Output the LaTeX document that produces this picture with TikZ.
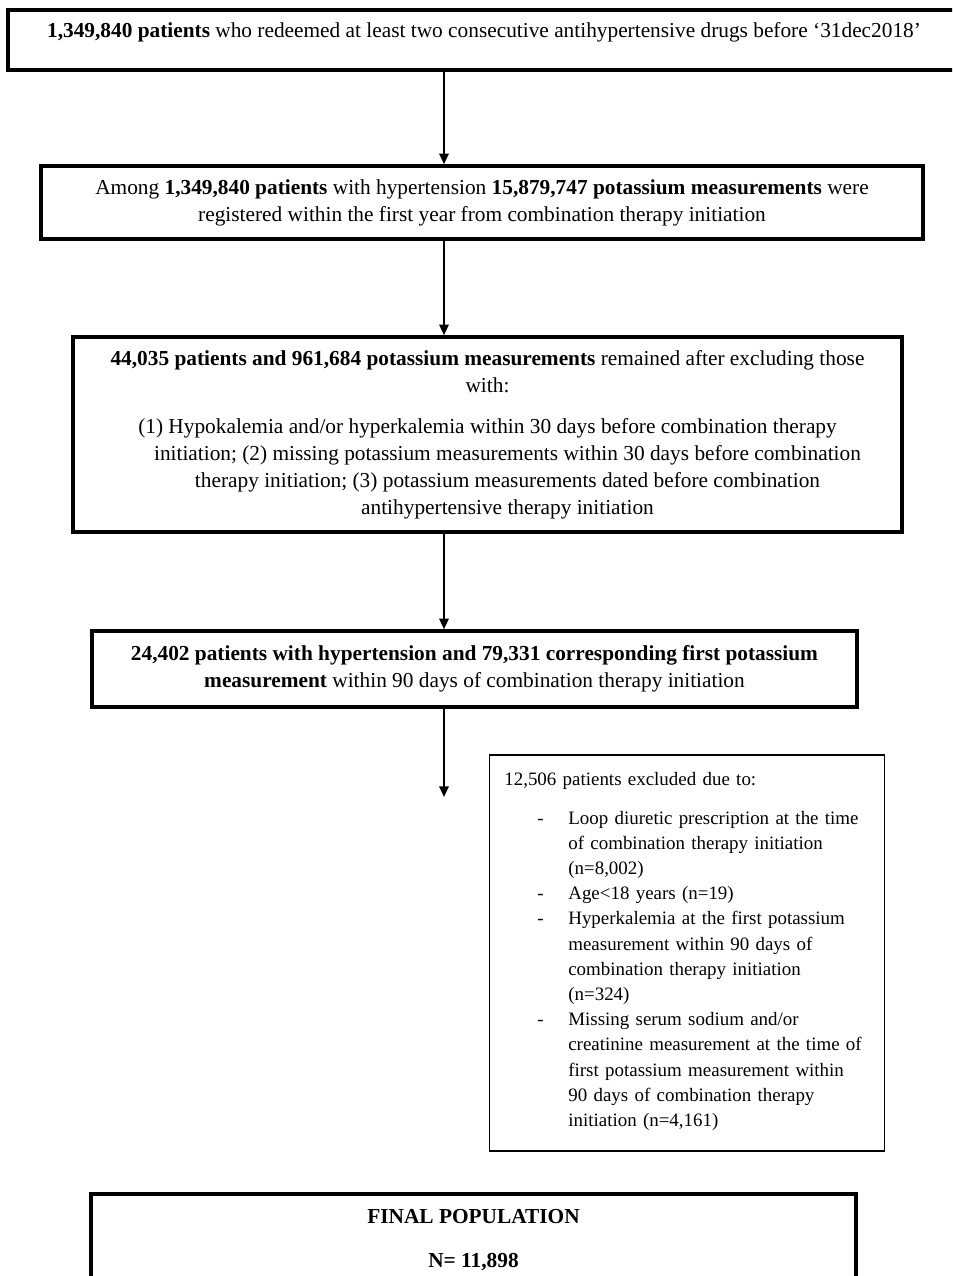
\documentclass[tikz,border=0pt]{standalone}
\usepackage{fontspec}
\setmainfont{Liberation Serif}
\usetikzlibrary{arrows.meta}

\begin{document}
\begin{tikzpicture}[x=0.75pt,y=-0.75pt,
  box/.style={draw,line width=2.6pt,align=center,inner sep=0pt,font=\fontsize{16}{20.25}\selectfont},
  exclbox/.style={draw,line width=1.2pt,align=left,inner xsep=11.25pt,text width=274pt,font=\fontsize{14.2}{18.9}\selectfont},
  >={Triangle[length=8pt,width=7pt]},line width=1.6pt]
\clip (0,0) rectangle (952,1276);

\node[box,minimum width=714pt,minimum height=45pt] (start) at (484,40) {\textbf{1,349,840 patients} who redeemed at least two consecutive antihypertensive drugs before ‘31dec2018’\\[-5pt]\mbox{}};

\node[box,minimum width=661.5pt,minimum height=54.75pt] (among) at (482,202.5) {Among \textbf{1,349,840 patients} with hypertension \textbf{15,879,747 potassium measurements} were\\
registered within the first year from combination therapy initiation};

\node[box,minimum width=621.75pt,minimum height=146.25pt] (remain) at (487.5,434.5) {\textbf{44,035 patients and 961,684 potassium measurements} remained after excluding those\\
with:\\[10.5pt]
(1) Hypokalemia and/or hyperkalemia within 30 days before combination therapy\\
\hspace*{30pt}initiation; (2) missing potassium measurements within 30 days before combination\\
\hspace*{30pt}therapy initiation; (3) potassium measurements dated before combination\\
\hspace*{30pt}antihypertensive therapy initiation};

\node[box,minimum width=573.75pt,minimum height=57pt] (first) at (474.5,669) {\textbf{24,402 patients with hypertension and 79,331 corresponding first potassium}\\
\textbf{measurement} within 90 days of combination therapy initiation};

\node[exclbox,minimum height=297pt] (excl) at (687,953) {12,506 patients excluded due to:\\[12pt]
\begin{tabular}{@{\hspace{24.75pt}}p{23.25pt}@{}l@{}}
- & Loop diuretic prescription at the time\\
  & of combination therapy initiation\\
  & (n=8,002)\\
- & Age<18 years (n=19)\\
- & Hyperkalemia at the first potassium\\
  & measurement within 90 days of\\
  & combination therapy initiation\\
  & (n=324)\\
- & Missing serum sodium and/or\\
  & creatinine measurement at the time of\\
  & first potassium measurement within\\
  & 90 days of combination therapy\\
  & initiation (n=4,161)
\end{tabular}};

\node[box,line width=3pt,minimum width=573.75pt,minimum height=69pt] (final) at (473.5,1240) {\textbf{FINAL POPULATION}\\[12.75pt]
\textbf{N= 11,898}};

\coordinate (ax) at (444,0);
\coordinate (arrowend) at (444,797);

\draw[->] (start.south -| ax) -- (among.north -| ax);
\draw[->] (among.south -| ax) -- (remain.north -| ax);
\draw[->] (remain.south -| ax) -- (first.north -| ax);
\draw[->] (first.south -| ax) -- (arrowend);

\end{tikzpicture}
\end{document}
